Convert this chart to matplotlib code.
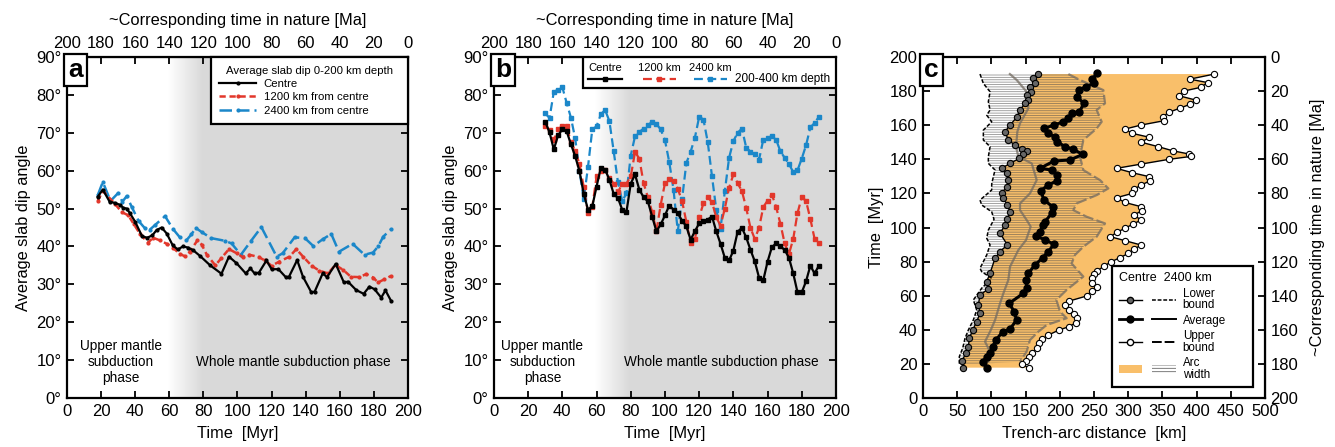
import matplotlib
matplotlib.use('Agg')
import matplotlib.pyplot as plt
import numpy as np
from matplotlib.colors import LinearSegmentedColormap
from matplotlib.lines import Line2D
from matplotlib.patches import Patch, Rectangle
from matplotlib.legend_handler import HandlerTuple
from matplotlib.offsetbox import AnchoredText

plt.rcParams['font.family'] = ['Liberation Sans', 'DejaVu Sans']
plt.rcParams['hatch.linewidth'] = 0.6

RED = '#e2372b'
BLUE = '#1b87c9'
SHADE = '#d9d9d9'
ORANGE = '#f9bf6a'

# ---------------- panel a : slab dip 0-200 km ----------------
a_t_centre = [18, 21, 25, 28, 31, 33, 35, 37, 40, 44, 47, 50, 52.5, 55.5, 58.5, 62, 65, 68, 71, 74,
              78, 84, 90.6, 95, 99.4, 104.8, 107.6, 110, 112.6, 117, 120, 124, 128.3, 130.2, 135,
              138.4, 143.3, 145.3, 150, 152.5, 157.6, 162.4, 164.8, 169.6, 174, 177.4, 180.4,
              184.3, 186.8, 190]
a_centre = [53.1, 55.0, 51.8, 51.5, 51.0, 50.2, 50.0, 48.7, 46.5, 42.7, 42.3, 42.9, 44.3, 45.0, 43.4,
            40.3, 39.2, 40.0, 39.7, 39.0, 37.5, 35.0, 32.8, 37.3, 35.6, 32.9, 34.2, 32.9, 33.1, 36.3,
            34.0, 34.0, 31.9, 32.0, 36.4, 32.0, 27.9, 28.1, 32.9, 31.9, 35.4, 30.5, 30.7, 28.5, 27.5,
            29.4, 28.7, 26.5, 28.4, 25.7]

a_t_1200 = [18, 21, 28, 32, 36, 39, 43, 47.5, 50.5, 54.5, 58.5, 62, 66, 69, 72, 76.5, 79, 82, 87,
            90.5, 95, 99.5, 103, 107, 112.5, 116, 120, 124.5, 130.5, 134.5, 138.5, 143.5, 148, 153,
            157.5, 162, 166.5, 171.5, 175.5, 179.5, 182.5, 186, 190]
a_1200 = [52.0, 54.7, 51.3, 49.1, 48.2, 46.0, 43.2, 41.0, 42.3, 41.6, 40.7, 39.7, 38.1, 37.4, 38.6,
          41.6, 40.5, 37.8, 35.0, 36.9, 39.3, 38.2, 37.2, 37.8, 37.2, 36.3, 34.9, 36.0, 37.3, 39.3,
          37.3, 34.9, 33.6, 32.9, 35.1, 33.8, 32.0, 31.9, 32.7, 31.8, 30.5, 31.3, 32.2]

a_t_2400 = [18, 21, 25.5, 30, 32.5, 35, 38, 42, 45.5, 48.5, 51.5, 57.5, 62, 66, 70, 73, 75.5, 79,
            84.5, 92.5, 96.5, 102, 108, 114, 123, 126.5, 133.5, 139.5, 144.5, 150, 155, 159.5,
            167.5, 174.5, 179.5, 182.5, 185.5, 190]
a_2400 = [53.5, 57.0, 52.0, 54.1, 51.8, 53.3, 50.4, 46.7, 44.9, 44.4, 45.6, 48.0, 44.7, 42.5, 41.6,
          43.2, 44.9, 43.8, 42.2, 41.5, 40.8, 37.8, 41.5, 45.1, 37.3, 38.2, 42.4, 42.2, 40.1, 41.9,
          43.3, 38.6, 40.7, 37.8, 38.4, 40.0, 42.6, 44.5]

# ---------------- panel b : slab dip 200-400 km ----------------
b_t = [30, 32.5, 35, 37.5, 40, 42.5, 45, 47.5, 50, 52.5, 55, 57.5, 60, 62.5, 65, 67.5, 70, 72.5,
       75, 77.5, 80, 82.5, 85, 87.5, 90, 92.5, 95, 97.5, 100, 102.5, 105, 107.5, 110, 112.5, 115,
       117.5, 120, 122.5, 125, 127.5, 130, 132.5, 135, 137.5, 140, 142.5, 145, 147.5, 150, 152.5,
       155, 157.5, 160, 162.5, 165, 167.5, 170, 172.5, 175, 177.5, 180, 182.5, 185, 187.5, 190]
b_centre = [72.9, 70.1, 65.6, 69.3, 70.9, 70.4, 67.0, 63.8, 59.9, 53.9, 49.7, 50.6, 55.8, 60.8, 60.3,
            57.6, 53.9, 52.8, 49.7, 49.2, 56.6, 59.0, 55.0, 53.0, 51.9, 47.9, 44.0, 45.8, 48.2, 50.8,
            49.7, 48.8, 46.8, 45.3, 41.8, 44.0, 46.1, 46.7, 47.1, 47.9, 44.0, 40.7, 37.0, 36.3, 38.9,
            43.9, 44.9, 42.4, 39.1, 36.1, 31.8, 31.1, 36.0, 39.8, 40.8, 40.0, 39.1, 37.0, 32.9, 27.9,
            27.9, 30.8, 34.9, 32.9, 34.9]
b_1200 = [71.8, 70.7, 68.0, 70.9, 71.8, 71.7, 67.6, 65.2, 61.8, 55.7, 48.8, 50.4, 58.5, 59.9, 60.1,
          58.1, 56.6, 54.3, 56.6, 56.6, 58.5, 64.9, 63.2, 56.7, 53.0, 49.1, 44.0, 51.0, 56.7, 57.9,
          57.4, 55.2, 52.0, 46.5, 40.8, 42.0, 47.7, 51.4, 53.0, 51.7, 47.7, 45.5, 50.0, 55.5, 59.0,
          56.7, 54.6, 50.2, 44.9, 42.0, 44.9, 50.4, 52.1, 53.7, 50.4, 46.0, 40.8, 38.0, 42.0, 48.8,
          53.0, 52.0, 47.3, 42.0, 40.8]
b_2400 = [75.1, 73.9, 80.8, 81.4, 82.0, 77.9, 74.0, 68.5, 60.0, 52.5, 61.0, 70.9, 71.7, 74.9, 76.0,
          73.1, 65.2, 57.0, 52.0, 54.0, 64.0, 69.1, 70.2, 71.1, 72.0, 72.9, 72.3, 70.9, 68.0, 62.3,
          55.0, 44.0, 52.5, 62.0, 65.0, 68.7, 74.2, 73.5, 67.6, 58.5, 49.7, 44.6, 54.6, 63.4, 67.8,
          70.0, 71.1, 66.1, 65.0, 64.3, 62.9, 68.2, 68.6, 69.1, 68.2, 65.1, 63.4, 61.8, 59.6, 60.1,
          63.2, 66.7, 71.4, 72.6, 74.2]

# ---------------- panel c : trench-arc distance ----------------
# centre of the model (circles)
c_up_T = [190, 187, 185, 182.2, 180, 177.3, 174.7, 172.2, 169.9, 167.5, 165, 162.6, 160.1, 157.7,
          155.2, 152.9, 150, 147.4, 145, 143.1, 141.7, 140, 137.2, 134.7, 132.1, 129.8, 127.4,
          124.9, 122.4, 120, 117.5, 114.7, 112.2, 109.8, 107.3, 104.4, 102, 99.5, 97.1, 94.6, 92.3,
          89.7, 87.2, 84.8, 82.3, 79.9, 77.4, 74.7, 72.5, 70.2, 67.6, 65.3, 62.9, 59.8, 56.9, 54.5,
          51.6, 49.3, 46.7, 44.2, 41.8, 39.9, 36.9, 34.4, 32, 29.1, 26.6, 24.2, 21.9, 19.7, 17.8]
c_up_d = [426, 390, 416, 406, 381, 374, 399, 390, 375, 359, 351, 352, 319, 295, 306, 331, 319, 344,
          365, 389, 392, 360, 319, 283, 306, 331, 332, 319, 308, 306, 283, 295, 319, 320, 308, 319,
          307, 295, 283, 274, 295, 319, 308, 300, 288, 275, 265, 255, 250, 247, 247, 254, 247, 239,
          214, 207, 214, 221, 225, 224, 213, 199, 183, 174, 169, 166, 160, 155, 151, 144, 155]

c_avg_T = [190.4, 186.9, 184.5, 182.6, 180.6, 176.7, 172.8, 167.9, 166.9, 164, 162, 160.1, 158.1,
           155.2, 153.2, 150.3, 147.4, 145.8, 142.9, 139.6, 139, 134.7, 133.7, 130.8, 127.4, 124.9,
           121.6, 116.1, 112.2, 108.3, 103.4, 101.5, 97.5, 95.2, 92.7, 90.2, 85.9, 82.3, 78, 73.2,
           69.2, 64.4, 61.4, 55.6, 50.7, 45.8, 40.5, 38.9, 34.1, 30.1, 26.2, 24.3, 21, 17.8]
c_avg_d = [255, 246.6, 250, 238.3, 228.5, 224.6, 235.4, 228.5, 217.3, 212.5, 205.1, 191.5, 176.9,
           183.2, 193, 196.4, 207.6, 219.8, 233.4, 214.9, 191.5, 171, 188.1, 195.4, 195.4, 183.2,
           172, 176.9, 189.5, 188.1, 178.3, 175.9, 171, 165.2, 178.3, 191.5, 183.2, 175, 163.7, 154,
           150.6, 151.5, 146.7, 126.2, 133, 136.9, 127.2, 116.5, 106.7, 101.8, 98, 93.1, 87.2, 93.1]

c_low_T = [190, 187.4, 184.5, 182.6, 179.6, 177.7, 174.7, 172.8, 168.9, 164.6, 160.1, 156.2, 151.3,
           148.3, 145.8, 145, 142.9, 140.5, 137.6, 134.7, 131.7, 127.8, 123.5, 120.4, 117.1, 113.2,
           109.2, 104.8, 101.5, 96.6, 89.8, 85.9, 82, 73.2, 68.3, 64, 60.4, 54.6, 49.7, 44.8, 39.9,
           35, 30.1, 26.2, 21.7, 17.8]
c_low_d = [168.6, 161.3, 163.7, 156.4, 157.4, 151.5, 154, 149.1, 141.8, 137, 127.2, 119.9, 124.7,
           134.5, 144.2, 151.5, 146.7, 140.8, 127.2, 115, 122.3, 124.7, 122.3, 115, 117.4, 123.3,
           127.2, 123.3, 119.9, 112.6, 123.3, 112.6, 105.3, 98, 93.1, 95.5, 83.3, 80.9, 83.3, 78.5,
           72.6, 67.7, 66.3, 62.9, 56.5, 59]

# 2400 km from centre (lines)
w_low_T = [190, 184.5, 179.6, 173.8, 168.9, 165.9, 162, 157.1, 151.3, 147.4, 141.5, 137.6, 133.7,
           129.8, 125.5, 122, 116.1, 113.2, 109.2, 104.8, 98.5, 93.7, 89.8, 83.9, 76.1, 74.1, 70.2,
           64.4, 57.5, 51.6, 45.8, 39.9, 35, 29.2, 24.3, 19.4]
w_low_d = [83.3, 88.2, 98, 95.5, 98, 93.1, 100.4, 88.2, 88.2, 98, 95.5, 95.5, 105.3, 102.8, 100.4,
           100.4, 83.3, 85.8, 100.4, 103.8, 95.5, 93.1, 98, 93.1, 83.3, 85.8, 100.4, 85.8, 73.6,
           78.5, 73.6, 66.3, 61.4, 58, 53.1, 53.1]

w_avg_T = [190, 186.5, 179.6, 169.9, 161.1, 156.2, 147.4, 141.5, 137.6, 127.8, 120, 114.1, 110.2,
           104.4, 100.5, 92.6, 86.8, 77, 69.2, 61.3, 55.5, 45.7, 38.9, 33.1, 27.2, 21.3]
w_avg_d = [127, 137, 151.5, 154, 141.8, 137.9, 136, 139.4, 158.9, 166.2, 156.4, 141.8, 141.8, 151.5,
           157.4, 150.6, 139.4, 127.2, 124.7, 117.4, 112.6, 105.3, 98, 90.6, 98, 95.5]

w_up_T = [190, 186.5, 180.6, 172.8, 168.9, 162, 158.1, 151.3, 141.5, 133.7, 127.8, 122.9, 119,
          114.1, 110.2, 106.3, 102.4, 94.6, 88.7, 83.9, 78.9, 71.2, 63.4, 57.5, 50.7, 46.8, 42.8,
          38.9, 34, 27.2, 21.3]
w_up_d = [212.5, 229.5, 263.6, 266.1, 253.9, 261.2, 253.9, 234.4, 229.5, 234.4, 258.8, 270.9, 253.9,
          224.6, 219.8, 239.3, 266.1, 253.9, 234.4, 222.2, 217.3, 234.4, 210, 195, 200.3, 210,
          180.8, 168.6, 156.4, 151.5, 141.8]

TICK = dict(direction='in', length=5, width=1.3, labelsize=12, pad=4)
LAB = 11.8


def style(ax):
    for s in ax.spines.values():
        s.set_linewidth(1.6)
    ax.tick_params(top=False, right=True, **TICK)


def panel_label(ax, letter):
    at = AnchoredText(letter, loc='upper left', prop=dict(size=19, weight='bold'),
                      pad=0.05, borderpad=0, frameon=True)
    at.patch.set_linewidth(1.6)
    at.patch.set_boxstyle('square,pad=0.1')
    ax.add_artist(at)


def dip_axes(ax):
    style(ax)
    grad = LinearSegmentedColormap.from_list('grad', ['white', SHADE])
    ax.imshow(np.linspace(0, 1, 256).reshape(1, -1), extent=[59, 79, 0, 90], aspect='auto',
              cmap=grad, zorder=0)
    ax.axvspan(79, 200, color=SHADE, lw=0, zorder=0)
    ax.set_xlim(0, 200)
    ax.set_ylim(0, 90)
    ax.set_xticks(range(0, 201, 20))
    ax.set_yticks(range(0, 91, 10))
    ax.set_yticklabels([f'{v}°' for v in range(0, 91, 10)])
    ax.set_xlabel('Time  [Myr]', fontsize=LAB, labelpad=5)
    ax.set_ylabel('Average slab dip angle', fontsize=LAB, labelpad=4)
    sec = ax.secondary_xaxis('top', functions=(lambda x: 200 - x, lambda x: 200 - x))
    sec.set_xticks(range(0, 201, 20))
    sec.tick_params(**TICK)
    sec.set_xlabel('~Corresponding time in nature [Ma]', fontsize=LAB, labelpad=8)


def phase_text(ax, xc):
    ax.text(xc, 13.7, 'Upper mantle', ha='center', va='center', fontsize=9.8)
    ax.text(xc, 9.5, 'subduction', ha='center', va='center', fontsize=9.8)
    ax.text(xc, 5.3, 'phase', ha='center', va='center', fontsize=9.8)
    ax.text(133, 9.5, 'Whole mantle subduction phase', ha='center', va='center', fontsize=9.8)


fig = plt.figure(figsize=(13.35, 4.47), dpi=100)
ax_a = fig.add_axes([0.0502, 0.1096, 0.2554, 0.7629])
ax_b = fig.add_axes([0.3700, 0.1096, 0.2562, 0.7629])
ax_c = fig.add_axes([0.6914, 0.1096, 0.2562, 0.7629])

# ---- a ----
dip_axes(ax_a)
ax_a.plot(a_t_2400, a_2400, color=BLUE, lw=1.8, ls=(0, (5, 2)), marker='o', ms=2,
          label='2400 km from centre', zorder=3)
ax_a.plot(a_t_1200, a_1200, color=RED, lw=1.8, ls=(0, (2.5, 1.5)), marker='o', ms=2,
          label='1200 km from centre', zorder=4)
ax_a.plot(a_t_centre, a_centre, color='k', lw=1.6, marker='o', ms=2, label='Centre', zorder=5)
h, l = ax_a.get_legend_handles_labels()
leg = ax_a.legend(h[::-1], l[::-1], loc='upper right', bbox_to_anchor=(0.422, 0.8, 0.578, 0.2),
                  mode='expand', borderaxespad=0, fontsize=8.2,
                  title='Average slab dip 0-200 km depth', title_fontsize=8.2, fancybox=False,
                  edgecolor='k', framealpha=1, handlelength=3.2, labelspacing=0.3,
                  borderpad=0.75, handletextpad=0.7)
leg.get_frame().set_linewidth(1.6)
leg.set_zorder(10)
phase_text(ax_a, 31.5)
panel_label(ax_a, 'a')

# ---- b ----
dip_axes(ax_b)
ax_b.plot(b_t, b_2400, color=BLUE, lw=1.6, ls=(0, (4, 2)), marker='s', ms=3.3, zorder=3)
ax_b.plot(b_t, b_1200, color=RED, lw=1.6, ls=(0, (4, 2)), marker='s', ms=3.3, zorder=4)
ax_b.plot(b_t, b_centre, color='k', lw=1.6, marker='s', ms=3.3, zorder=5)
ax_b.add_patch(Rectangle((0.26, 0.909), 0.74, 0.091, transform=ax_b.transAxes, fc='white',
                         ec='k', lw=1.6, zorder=9))
for x0, x1, col, ls, name in [(0.275, 0.374, 'k', '-', 'Centre'),
                              (0.436, 0.532, RED, (0, (4, 2)), '1200 km'),
                              (0.585, 0.681, BLUE, (0, (4, 2)), '2400 km')]:
    ax_b.add_line(Line2D([x0, x1], [0.935, 0.935], transform=ax_b.transAxes, color=col, ls=ls,
                         lw=1.6, zorder=10))
    ax_b.add_line(Line2D([(x0 + x1) / 2], [0.935], transform=ax_b.transAxes, color=col,
                         marker='s', ms=3.3, zorder=10))
    ax_b.text((x0 + x1) / 2, 0.968, name, transform=ax_b.transAxes, ha='center', va='center',
              fontsize=8, zorder=10)
ax_b.text(0.705, 0.935, '200-400 km depth', transform=ax_b.transAxes, ha='left', va='center',
          fontsize=8.5, zorder=10)
phase_text(ax_b, 28.3)
panel_label(ax_b, 'b')

# ---- c ----
style(ax_c)
ax_c.tick_params(top=True, right=False)
ax_c.fill(np.r_[c_low_d, c_up_d[::-1]], np.r_[c_low_T, c_up_T[::-1]], color=ORANGE, lw=0,
          zorder=1)
ax_c.fill(np.r_[w_low_d, w_up_d[::-1]], np.r_[w_low_T, w_up_T[::-1]], facecolor='none',
          edgecolor=(0.3, 0.3, 0.3, 0.6), hatch='-------', lw=0, zorder=2)
ax_c.plot(w_low_d, w_low_T, color='k', ls=(0, (2.5, 1.2)), lw=1.1, zorder=3)
ax_c.plot(w_avg_d, w_avg_T, color=(0.45, 0.42, 0.38), alpha=0.75, lw=1.6, zorder=3)
ax_c.plot(w_up_d, w_up_T, color=(0.45, 0.42, 0.38), alpha=0.75, ls=(0, (5, 1.5)), lw=1.6,
          zorder=3)
ax_c.plot(c_low_d, c_low_T, color='k', lw=1.0, marker='o', ms=4.5, mfc='#666666', mec='k',
          mew=0.8, zorder=5)
ax_c.plot(c_avg_d, c_avg_T, color='k', lw=2.2, marker='o', ms=5, mfc='k', mec='k', zorder=5)
ax_c.plot(c_up_d, c_up_T, color='k', lw=1.0, marker='o', ms=4.5, mfc='white', mec='k', mew=0.8,
          zorder=5)
ax_c.set_xlim(0, 500)
ax_c.set_ylim(0, 200)
ax_c.set_xticks(range(0, 501, 50))
ax_c.set_yticks(range(0, 201, 20))
ax_c.set_xlabel('Trench-arc distance  [km]', fontsize=LAB, labelpad=5)
ax_c.set_ylabel('Time  [Myr]', fontsize=LAB, labelpad=4)
sec_c = ax_c.secondary_yaxis('right', functions=(lambda y: 200 - y, lambda y: 200 - y))
sec_c.set_yticks(range(0, 201, 20))
sec_c.tick_params(**TICK)
sec_c.set_ylabel('~Corresponding time in nature [Ma]', fontsize=LAB, labelpad=8)

hdl = [(Line2D([], [], color='k', lw=1.0, marker='o', ms=4.5, mfc='#666666', mec='k'),
        Line2D([], [], color='k', lw=1.1, ls=(0, (2.5, 1.2)))),
       (Line2D([], [], color='k', lw=2.0, marker='o', ms=5, mfc='k'),
        Line2D([], [], color='k', lw=1.4)),
       (Line2D([], [], color='k', lw=1.0, marker='o', ms=4.5, mfc='white', mec='k'),
        Line2D([], [], color='k', lw=1.4, ls=(0, (5, 1.5)))),
       (Patch(facecolor=ORANGE, lw=0),
        Patch(facecolor='white', edgecolor=(0.4, 0.4, 0.4), hatch='-----', lw=0))]
leg_c = ax_c.legend(hdl, ['Lower\nbound', 'Average', 'Upper\nbound', 'Arc\nwidth'],
                    handler_map={tuple: HandlerTuple(ndivide=None, pad=0.9)},
                    loc='lower left', bbox_to_anchor=(0.553, 0.032, 0.412, 0.3),
                    mode='expand', borderaxespad=0,
                    fontsize=8.4, title='Centre  2400 km', title_fontsize=9, alignment='left',
                    fancybox=False, edgecolor='k', framealpha=1, handlelength=4.9,
                    labelspacing=0.3, borderpad=0.55, handletextpad=0.6)
for t in leg_c.get_texts():
    t.set_linespacing(0.95)
leg_c.get_frame().set_linewidth(1.6)
leg_c.set_zorder(10)
panel_label(ax_c, 'c')

fig.savefig('out.png', dpi=100)
